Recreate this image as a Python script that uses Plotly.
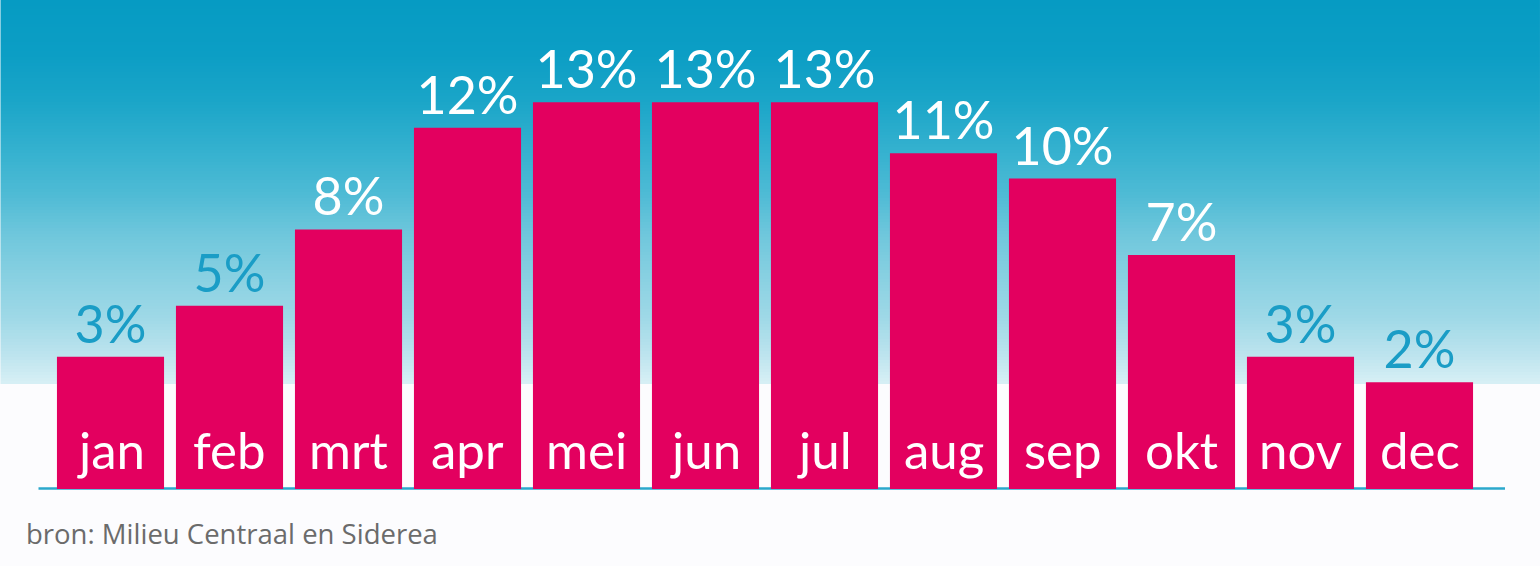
import plotly.graph_objects as go

months = ['jan', 'feb', 'mrt', 'apr', 'mei', 'jun', 'jul', 'aug', 'sep', 'okt', 'nov', 'dec']
share = [3, 5, 8, 12, 13, 13, 13, 11, 10, 7, 3, 2]
labels = [f"{v}%" for v in share]
source = "bron: Milieu Centraal en Siderea"

W, H = 1540, 566
ML, MR, MT, MB = 50.5, 61, 0, 77
PW = W - ML - MR
PH = H - MT - MB
Y0, Y1 = -2.2, 17.02

BAR = '#e3005f'
BLUE = '#1a9dc6'
FONT = 'Lato'

label_colors = [BLUE if v <= 5 else 'white' for v in share]

def px_x(p):
    return (p - ML) / PW

def px_y(p):
    return 1 - (p - MT) / PH

# background gradient stops (pixel y, colour)
stops = [(0, (6, 155, 195)), (55, (12, 158, 197)), (100, (26, 165, 200)),
         (150, (52, 177, 207)), (195, (79, 187, 213)), (235, (111, 199, 220)),
         (280, (138, 209, 226)), (320, (160, 217, 231)), (355, (189, 228, 238)),
         (382, (214, 239, 245))]

def col_at(y):
    for (ya, ca), (yb, cb) in zip(stops, stops[1:]):
        if ya <= y <= yb:
            t = (y - ya) / (yb - ya)
            c = [round(a + (b - a) * t) for a, b in zip(ca, cb)]
            return f"rgb({c[0]},{c[1]},{c[2]})"
    return "rgb(214,239,245)"

shapes = []
step = 3
y = 0
while y < 384:
    shapes.append(dict(type='rect', xref='paper', yref='paper',
                       x0=px_x(0), x1=px_x(W), y0=px_y(min(y + step, 384)), y1=px_y(y),
                       fillcolor=col_at(y + step / 2), line=dict(width=0), layer='below'))
    y += step
shapes.append(dict(type='line', xref='paper', yref='paper',
                   x0=px_x(38), x1=px_x(1505), y0=px_y(488.5), y1=px_y(488.5),
                   line=dict(color='#2ba8cc', width=2.5), layer='below'))

fig = go.Figure(go.Bar(
    x=months, y=[v - Y0 for v in share], base=Y0,
    marker=dict(color=BAR, line=dict(width=0)),
    text=labels, textposition='outside', constraintext='none', cliponaxis=False,
    textfont=dict(family=FONT, size=52, color=label_colors),
    hoverinfo='skip',
))

annotations = [dict(x=m, y=Y0, xref='x', yref='y', text=m, showarrow=False,
                    yanchor='bottom', yshift=7,
                    font=dict(family=FONT, size=51, color='white'))
               for m in months]
annotations.append(dict(x=px_x(23), y=px_y(533), xref='paper', yref='paper', text=source,
                        showarrow=False, xanchor='left', yanchor='middle',
                        font=dict(family='Open Sans', size=27.5, color='#6b6b6b')))

fig.update_layout(
    width=W, height=H,
    margin=dict(l=ML, r=MR, t=MT, b=MB, pad=0),
    paper_bgcolor='#fcfcfe', plot_bgcolor='rgba(0,0,0,0)',
    bargap=0.1, showlegend=False, hovermode=False,
    xaxis=dict(visible=False, range=[-0.5, 11.5], fixedrange=True),
    yaxis=dict(visible=False, range=[Y0, Y1], fixedrange=True),
    shapes=shapes, annotations=annotations,
)

fig.write_html("out.html", config={'displayModeBar': False},
               post_script="document.body.style.margin='0';document.body.style.padding='0';")
